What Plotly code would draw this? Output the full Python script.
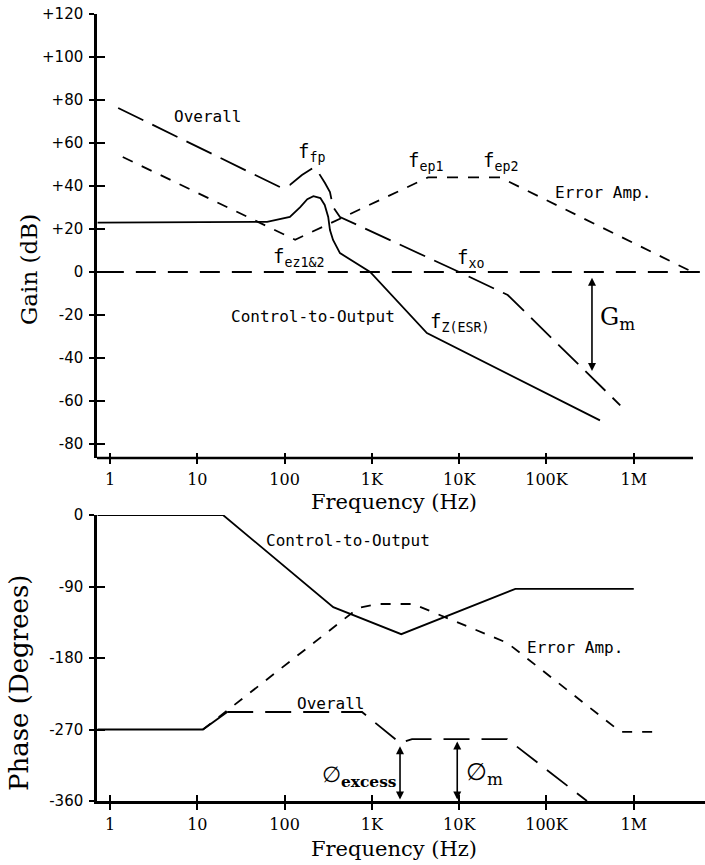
import math
import plotly.graph_objects as go

# ---------------- data ----------------
freq_ticks = [1, 10, 100, 1e3, 1e4, 1e5, 1e6]
freq_tick_text = ["1", "10", "100", "1K", "10K", "100K", "1M"]
gain_ticks = [120, 100, 80, 60, 40, 20, 0, -20, -40, -60, -80]
gain_tick_text = ["+120", "+100", "+80", "+60", "+40", "+20", "0", "-20", "-40", "-60", "-80"]
phase_ticks = [0, -90, -180, -270, -360]
phase_tick_text = ["0", "-90", "-180", "-270", "-360"]

# Gain (dB)
ctrl_gain_f = [0.72, 63, 115, 151, 182, 214, 257, 288, 316, 331, 359, 431, 955, 4270, 410000]
ctrl_gain_db = [23, 23.3, 25.6, 30.2, 33.9, 35.3, 34.4, 31.2, 25.6, 19.5, 14.9, 8.8, 0, -28.4, -69]

err_gain_f = [1.4, 132, 4400, 29500, 4700000]
err_gain_db = [53.5, 15, 44, 44, 0]

overall_gain_f = [1.24, 88.5, 115, 158, 211, 242, 290, 331, 359, 431, 10000, 36000, 700000]
overall_gain_db = [76.3, 39.5, 40.5, 45.1, 48.4, 46.5, 41.4, 37.2, 30.2, 25.6, 0, -10.7, -62]

zero_db_f = [0.85, 6.5e6]
zero_db = [0, 0]

# Phase (degrees)
ctrl_phase_f = [0.72, 19.7, 361, 2170, 44000, 1000000]
ctrl_phase_deg = [0, 0, -116, -150, -93, -93]

err_phase_f = [11.6, 700, 1150, 2970, 35600, 707000, 1700000]
err_phase_deg = [-270, -117, -112, -112, -161, -273, -273]

overall_phase_f = [0.72, 11.6, 22, 771, 2100, 2880, 35400, 291000]
overall_phase_deg = [-270, -270, -248, -248, -287, -282, -282, -360]

# margins
gain_margin_f, gain_margin_top, gain_margin_bot = 332000, -2, -46
phase_excess_f, phase_excess_top = 2100, -291
phase_margin_f, phase_margin_top = 9500, -285

# ---------------- layout geometry ----------------
W, H = 705, 865
L, R, T, B = 97, 0, 14, 64
PW, PH = W - L - R, H - T - B


def px(x):
    return (x - L) / PW


def py(y):
    return (H - B - y) / PH


LOG_LEFT = -0.149
LOG_RIGHT = 6.816
top_dom = [py(458), 1.0]
bot_dom = [0.0, py(515)]

LW = 1.8
BLACK = "black"
fig = go.Figure()


def line(f, v, dash, xa="x", ya="y"):
    fig.add_trace(go.Scatter(x=f, y=v, mode="lines", xaxis=xa, yaxis=ya,
                             line=dict(color=BLACK, width=LW, dash=dash),
                             hoverinfo="skip", showlegend=False))


# gain
line(zero_db_f, zero_db, "20px,12px")
line(err_gain_f, err_gain_db, "11px,10px")
line(overall_gain_f, overall_gain_db, "28px,10px")
line(ctrl_gain_f, ctrl_gain_db, "solid")

# phase
line(err_phase_f, err_phase_deg, "10px,10px", "x2", "y2")
line(overall_phase_f[:3], overall_phase_deg[:3], "solid", "x2", "y2")
line(overall_phase_f[2:], overall_phase_deg[2:], "26px,12px", "x2", "y2")
line(ctrl_phase_f, ctrl_phase_deg, "solid", "x2", "y2")

# dummy traces for the inner halves of the crossing ticks
for xa, ya in [("x", "y3"), ("x3", "y"), ("x2", "y4"), ("x4", "y2")]:
    fig.add_trace(go.Scatter(x=[None], y=[None], xaxis=xa, yaxis=ya,
                             showlegend=False, hoverinfo="skip"))

sans = "DejaVu Sans"
serif = "DejaVu Serif"
mono = "DejaVu Sans Mono"

xcommon = dict(type="log", range=[LOG_LEFT, LOG_RIGHT], domain=[0, 1],
               tickvals=freq_ticks, ticktext=freq_tick_text,
               tickfont=dict(family=serif, size=16, color=BLACK),
               showgrid=False, zeroline=False, tickcolor=BLACK, tickwidth=2)

fig.update_layout(
    width=W, height=H,
    margin=dict(l=L, r=R, t=T, b=B, pad=0),
    paper_bgcolor="white", plot_bgcolor="white",
    showlegend=False,
    xaxis=dict(**xcommon, anchor="y", showline=False,
               ticks="outside", ticklen=5, ticklabelstandoff=2),
    xaxis3=dict(**xcommon, anchor="y", overlaying="x", showline=False,
                ticks="inside", ticklen=5, showticklabels=False),
    xaxis2=dict(**xcommon, anchor="y2", showline=True, linecolor=BLACK, linewidth=2.5,
                ticks="outside", ticklen=6, ticklabelstandoff=1),
    xaxis4=dict(**xcommon, anchor="y2", overlaying="x2", showline=False,
                ticks="inside", ticklen=6, showticklabels=False),
    yaxis=dict(range=[-86.5, 120], domain=top_dom, anchor="x",
               tickvals=gain_ticks, ticktext=gain_tick_text,
               tickfont=dict(family=sans, size=15, color=BLACK),
               ticks="outside", ticklen=5, tickwidth=2, tickcolor=BLACK, ticklabelstandoff=3,
               showline=True, linecolor=BLACK, linewidth=2.5,
               showgrid=False, zeroline=False),
    yaxis3=dict(range=[-86.5, 120], domain=top_dom, anchor="x", overlaying="y",
                tickvals=gain_ticks, ticks="inside", ticklen=8, tickwidth=2, tickcolor=BLACK,
                showticklabels=False, showline=False, showgrid=False, zeroline=False),
    yaxis2=dict(range=[-360, 0], domain=bot_dom, anchor="x2",
                tickvals=phase_ticks, ticktext=phase_tick_text,
                tickfont=dict(family=sans, size=15, color=BLACK),
                ticks="outside", ticklen=5, tickwidth=2, tickcolor=BLACK, ticklabelstandoff=3,
                showline=True, linecolor=BLACK, linewidth=2.5,
                showgrid=False, zeroline=False),
    yaxis4=dict(range=[-360, 0], domain=bot_dom, anchor="x2", overlaying="y2",
                tickvals=phase_ticks, ticks="inside", ticklen=8, tickwidth=2, tickcolor=BLACK,
                showticklabels=False, showline=False, showgrid=False, zeroline=False),
)

# top x-axis line (ends short of the plotting width)
fig.add_shape(type="line", xref="paper", yref="paper",
              x0=px(97), x1=px(693), y0=top_dom[0], y1=top_dom[0],
              line=dict(color=BLACK, width=2.5))

ann = []


def text(x, y, s, family=mono, size=16):
    ann.append(dict(x=px(x), y=py(y), xref="paper", yref="paper", text=s,
                    showarrow=False, xanchor="center", yanchor="middle",
                    font=dict(family=family, size=size, color=BLACK)))


# axis titles
text(394, 502, "Frequency (Hz)", serif, 21)
text(394, 849, "Frequency (Hz)", serif, 21)
ann.append(dict(x=px(29), y=py(270), xref="paper", yref="paper", text="Gain (dB)",
                textangle=-90, showarrow=False, xanchor="center", yanchor="middle",
                font=dict(family=serif, size=23, color=BLACK)))
ann.append(dict(x=px(19), y=py(683), xref="paper", yref="paper", text="Phase (Degrees)",
                textangle=-90, showarrow=False, xanchor="center", yanchor="middle",
                font=dict(family=serif, size=26, color=BLACK)))

FS = 19
# gain labels
text(207, 117, "Overall")
text(311, 152, "f<sub>fp</sub>", mono, FS)
text(425, 161, "f<sub>ep1</sub>", mono, FS)
text(500, 161, "f<sub>ep2</sub>", mono, FS)
text(603, 192, "Error Amp.")
text(298, 257, "f<sub>ez1&2</sub>", mono, FS)
text(470, 258, "f<sub>xo</sub>", mono, FS)
text(313, 316, "Control-to-Output")
text(460, 322, "f<sub>Z(ESR)</sub>", mono, FS)
text(617, 318, "G<sub>m</sub>", serif, 24)

# phase labels
text(348, 540, "Control-to-Output")
text(575, 647, "Error Amp.")
text(330, 703, "Overall")
text(359, 776, "∅<sub><b>excess</b></sub>", serif, 22)
text(484, 773, "∅<sub>m</sub>", serif, 24)


def darrow(f, y0, y1, xa, ya):
    ann.append(dict(x=math.log10(f), y=y1, ax=math.log10(f), ay=y0,
                    xref=xa, yref=ya, axref=xa, ayref=ya, text="",
                    showarrow=True, arrowside="end+start", arrowhead=2,
                    startarrowhead=2, arrowsize=1, startarrowsize=1,
                    arrowwidth=1.6, arrowcolor=BLACK))


darrow(gain_margin_f, gain_margin_top, gain_margin_bot, "x", "y")
darrow(phase_excess_f, -360, phase_excess_top, "x2", "y2")
darrow(phase_margin_f, -360, phase_margin_top, "x2", "y2")

fig.update_layout(annotations=ann)
fig.write_html(
    "out.html",
    config={"displayModeBar": False},
    post_script="document.body.style.margin='0';document.body.style.overflow='hidden';",
)
